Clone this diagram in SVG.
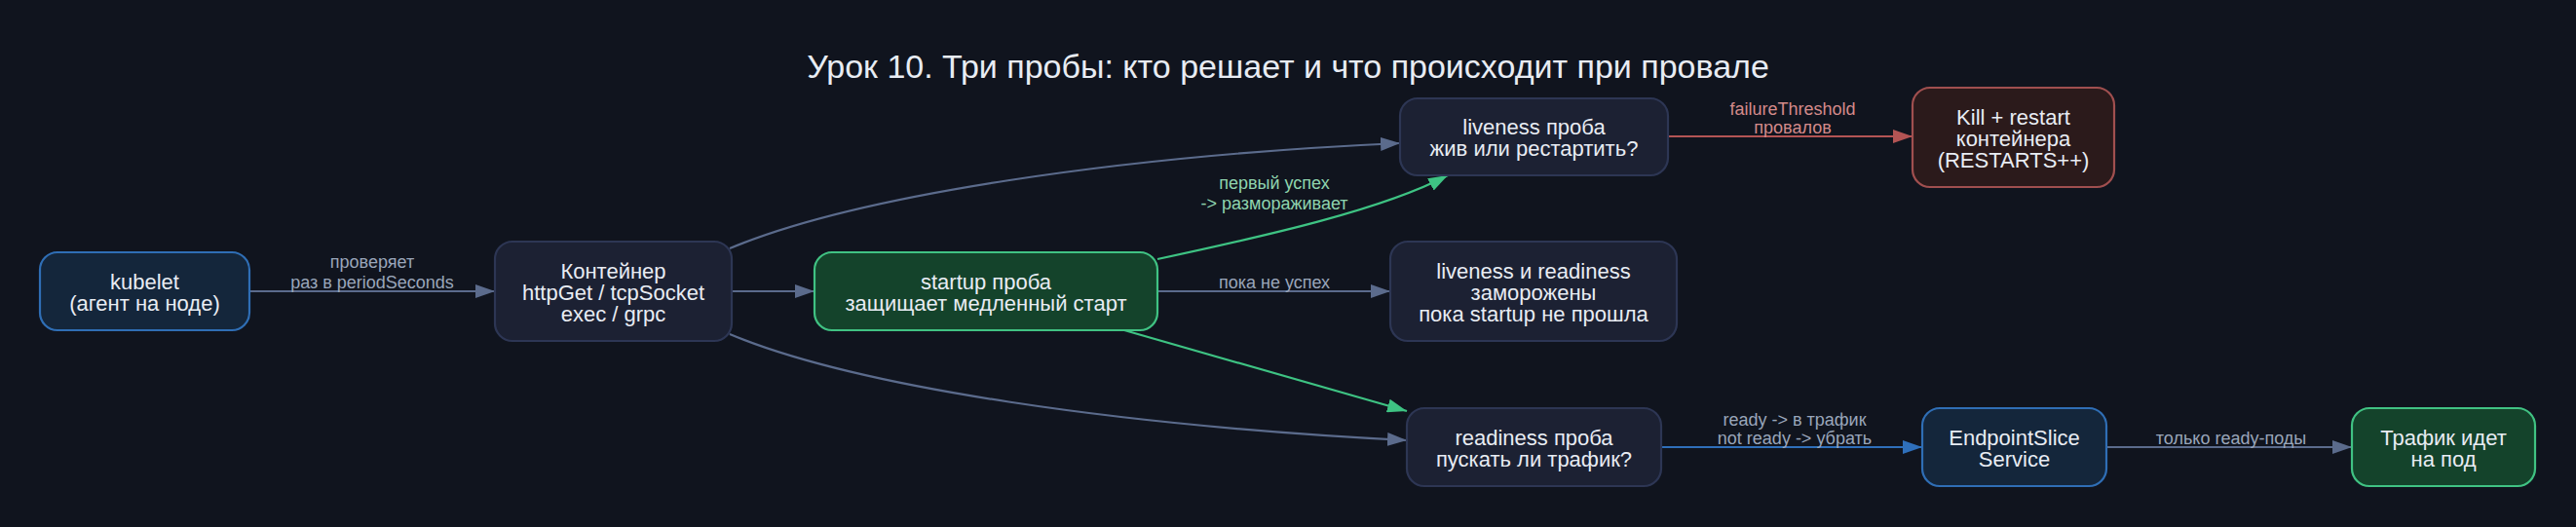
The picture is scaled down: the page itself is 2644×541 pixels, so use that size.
<svg xmlns="http://www.w3.org/2000/svg" width="2644" height="541" viewBox="0 0 2644 541">
<defs>
<style>
.bg{fill:#10141e}
.title{font-family:"Liberation Sans",Arial,sans-serif;font-size:34px;fill:#e8ecf3;text-anchor:middle}
.nt{font-family:"Liberation Sans",Arial,sans-serif;font-size:22px;fill:#e8ecf3;text-anchor:middle}
.el{font-family:"Liberation Sans",Arial,sans-serif;font-size:18px;text-anchor:middle}
.box{stroke-width:2.2}
.blue{fill:#14263b;stroke:#2f6eb5}
.slate{fill:#1c2133;stroke:#2d3654}
.green{fill:#14432b;stroke:#40c283}
.red{fill:#2b1a1b;stroke:#a04f4f}
.e{fill:none;stroke-width:2.2}
.eg{stroke:#5b6b8c}
.egr{stroke:#3ec383}
.er{stroke:#b35454}
.eb{stroke:#2f6fba}
.lg{fill:#9aa6ba}
.lgr{fill:#8fd4ae}
.lr{fill:#d48a8a}
</style>
<marker id="ag" markerUnits="userSpaceOnUse" markerWidth="20" markerHeight="14" refX="20" refY="7" orient="auto"><path d="M0,0 L20,7 L0,14 z" fill="#5b6b8c"/></marker>
<marker id="agr" markerUnits="userSpaceOnUse" markerWidth="20" markerHeight="14" refX="20" refY="7" orient="auto"><path d="M0,0 L20,7 L0,14 z" fill="#3ec383"/></marker>
<marker id="ar" markerUnits="userSpaceOnUse" markerWidth="20" markerHeight="14" refX="20" refY="7" orient="auto"><path d="M0,0 L20,7 L0,14 z" fill="#b35454"/></marker>
<marker id="ab" markerUnits="userSpaceOnUse" markerWidth="20" markerHeight="14" refX="20" refY="7" orient="auto"><path d="M0,0 L20,7 L0,14 z" fill="#2f6fba"/></marker>
</defs>
<rect class="bg" x="0" y="0" width="2644" height="541"/>
<text class="title" x="1322" y="80">Урок 10. Три пробы: кто решает и что происходит при провале</text>

<g id="connectors">
<path class="e eg" d="M256,299 L508,299" marker-end="url(#ag)"/>
<text class="el lg" x="382" y="275">проверяет</text>
<text class="el lg" x="382" y="296">раз в periodSeconds</text>
<path class="e eg" d="M751,299 L836,299" marker-end="url(#ag)"/>
<path class="e eg" d="M749,255 C880,200 1150,160 1437,147" marker-end="url(#ag)"/>
<path class="e eg" d="M749,343 C880,398 1150,437 1444,452" marker-end="url(#ag)"/>
<path class="e egr" d="M1188,266 C1300,242 1420,215 1486,180" marker-end="url(#agr)"/>
<text class="el lgr" x="1308" y="194">первый успех</text>
<text class="el lgr" x="1308" y="215">-&gt; размораживает</text>
<path class="e eg" d="M1188,299 L1427,299" marker-end="url(#ag)"/>
<text class="el lg" x="1308" y="296">пока не успех</text>
<path class="e egr" d="M1154,339 L1444,422" marker-end="url(#agr)"/>
<path class="e er" d="M1712,140 L1963,140" marker-end="url(#ar)"/>
<text class="el lr" x="1840" y="118">failureThreshold</text>
<text class="el lr" x="1840" y="137">провалов</text>
<path class="e eb" d="M1705,459 L1973,459" marker-end="url(#ab)"/>
<text class="el lg" x="1842" y="437">ready -&gt; в трафик</text>
<text class="el lg" x="1842" y="456">not ready -&gt; убрать</text>
<path class="e eg" d="M2162,459 L2414,459" marker-end="url(#ag)"/>
<text class="el lg" x="2290" y="456">только ready-поды</text>
</g>

<g id="kubelet">
<rect class="box blue" x="41" y="259" width="215" height="80" rx="18"/>
<text class="nt" x="148.5" y="297">kubelet</text>
<text class="nt" x="148.5" y="319">(агент на ноде)</text>
</g>
<g id="container">
<rect class="box slate" x="508" y="248" width="243" height="102" rx="18"/>
<text class="nt" x="629.5" y="286">Контейнер</text>
<text class="nt" x="629.5" y="308">httpGet / tcpSocket</text>
<text class="nt" x="629.5" y="330">exec / grpc</text>
</g>
<g id="startup">
<rect class="box green" x="836" y="259" width="352" height="80" rx="18"/>
<text class="nt" x="1012" y="297">startup проба</text>
<text class="nt" x="1012" y="319">защищает медленный старт</text>
</g>
<g id="liveness">
<rect class="box slate" x="1437" y="101" width="275" height="79" rx="18"/>
<text class="nt" x="1574.5" y="138">liveness проба</text>
<text class="nt" x="1574.5" y="160">жив или рестартить?</text>
</g>
<g id="kill">
<rect class="box red" x="1963" y="90" width="207" height="102" rx="18"/>
<text class="nt" x="2066.5" y="128">Kill + restart</text>
<text class="nt" x="2066.5" y="150">контейнера</text>
<text class="nt" x="2066.5" y="172">(RESTARTS++)</text>
</g>
<g id="frozen">
<rect class="box slate" x="1427" y="248" width="294" height="102" rx="18"/>
<text class="nt" x="1574" y="286">liveness и readiness</text>
<text class="nt" x="1574" y="308">заморожены</text>
<text class="nt" x="1574" y="330">пока startup не прошла</text>
</g>
<g id="readiness">
<rect class="box slate" x="1444" y="419" width="261" height="80" rx="18"/>
<text class="nt" x="1574.5" y="457">readiness проба</text>
<text class="nt" x="1574.5" y="479">пускать ли трафик?</text>
</g>
<g id="endpoint">
<rect class="box blue" x="1973" y="419" width="189" height="80" rx="18"/>
<text class="nt" x="2067.5" y="457">EndpointSlice</text>
<text class="nt" x="2067.5" y="479">Service</text>
</g>
<g id="traffic">
<rect class="box green" x="2414" y="419" width="188" height="80" rx="18"/>
<text class="nt" x="2508" y="457">Трафик идет</text>
<text class="nt" x="2508" y="479">на под</text>
</g>
</svg>
